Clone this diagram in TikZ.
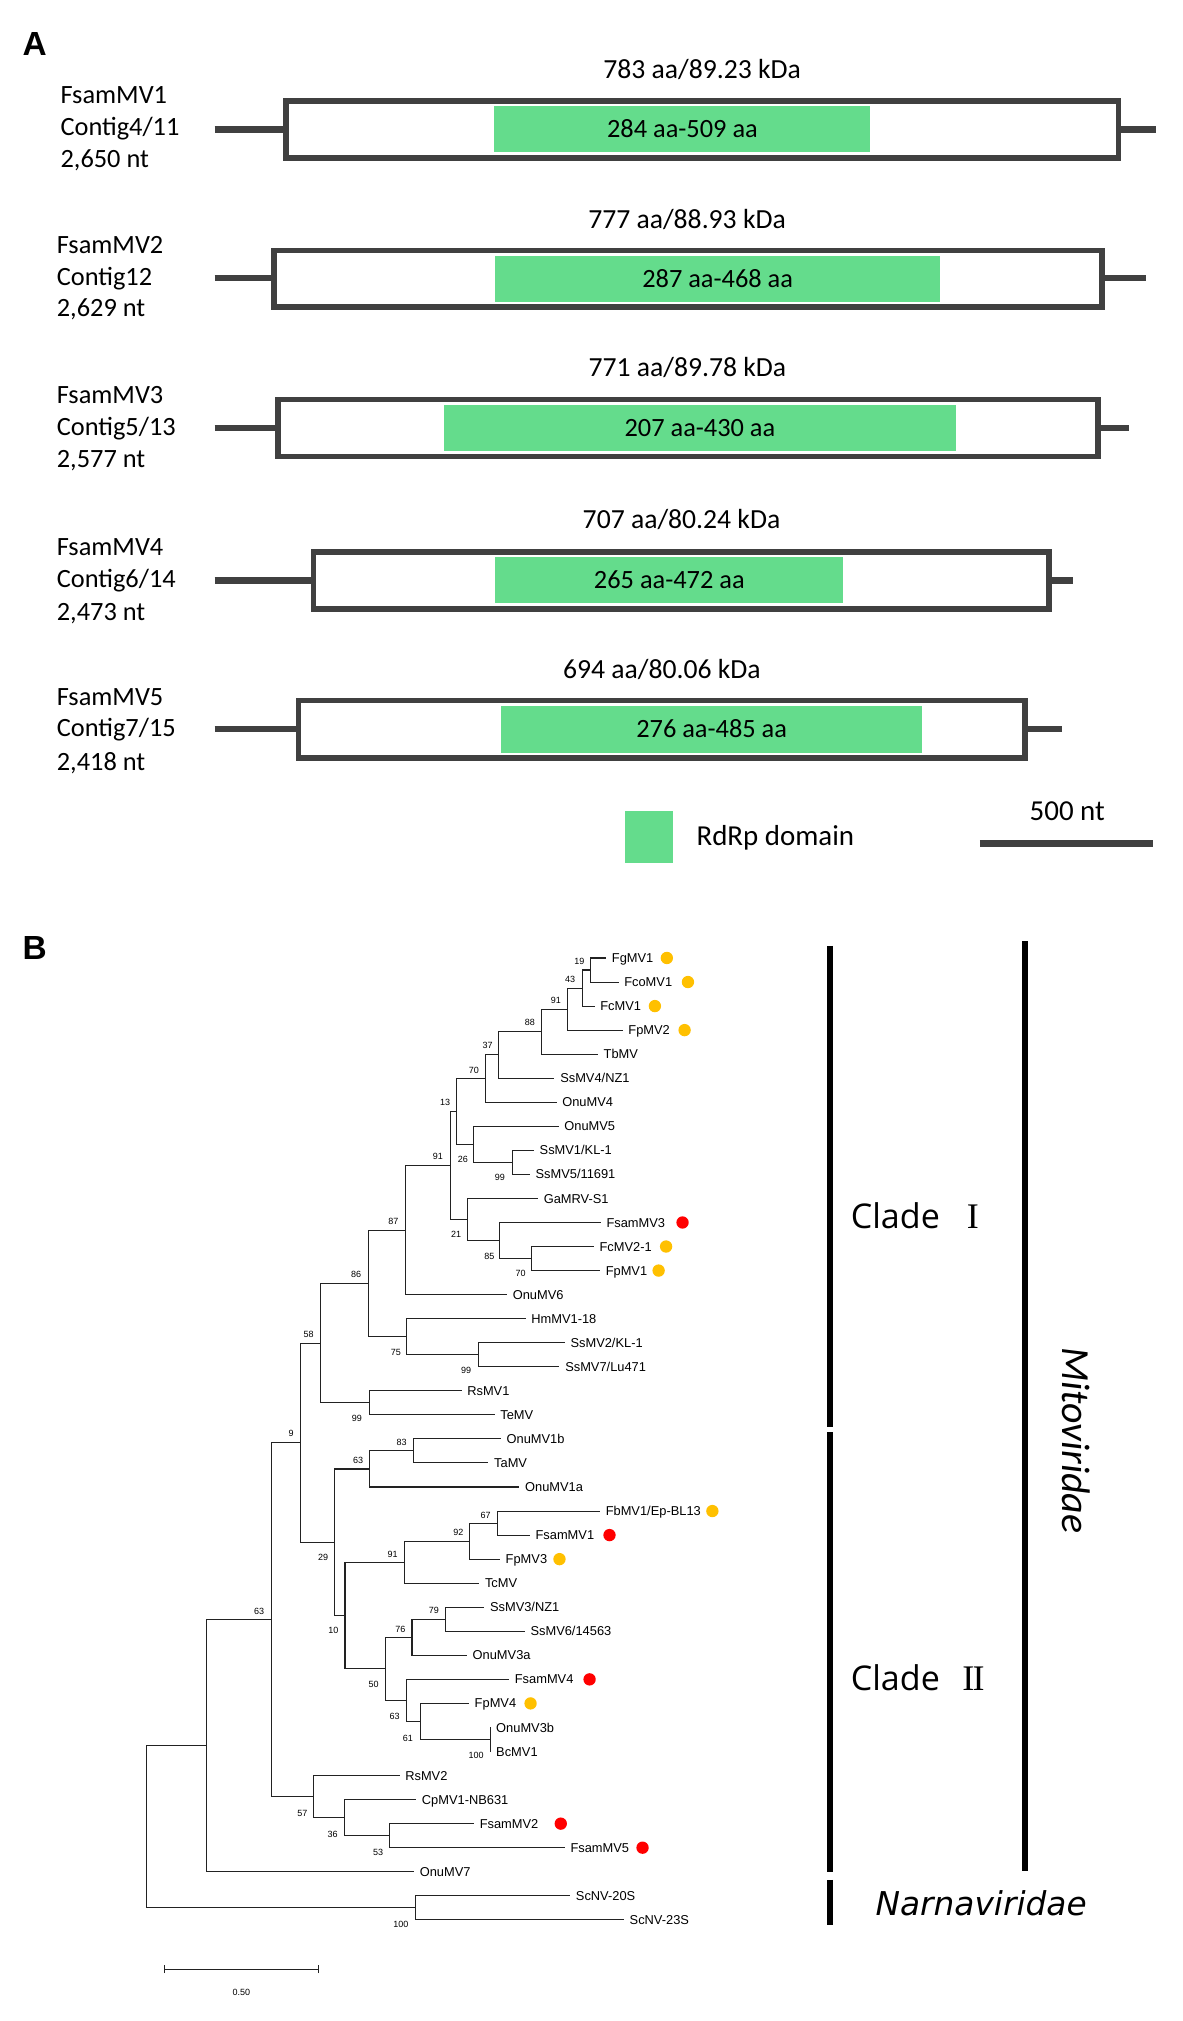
\documentclass[tikz,border=0pt]{standalone}
\usepackage{fontspec}
\setmainfont{Carlito}
\newfontfamily\arialf{Liberation Sans}
\newfontfamily\djv{DejaVu Sans}
\newfontfamily\opens{Open Sans}
\newfontfamily\libserif{Liberation Serif}
\definecolor{boxgray}{HTML}{404040}
\definecolor{rdrp}{HTML}{64DC8C}
\definecolor{orgdot}{HTML}{FFC000}
\definecolor{reddot}{HTML}{FF0000}
\definecolor{treeline}{HTML}{222222}
\begin{document}
\begin{tikzpicture}[x=1pt,y=-1pt,
  panel/.style={font=\arialf\bfseries\fontsize{26}{30}\selectfont,inner sep=0},
  genlab/.style={anchor=west,inner sep=0,font=\fontsize{20.5}{25}\selectfont,text height=13.2pt,text depth=0pt},
  title/.style={inner sep=0,font=\fontsize{21.5}{25}\selectfont,text height=13.8pt,text depth=0pt},
  domtxt/.style={inner sep=0,font=\fontsize{20.5}{25}\selectfont,text height=13.2pt,text depth=0pt},
  orf/.style={draw=boxgray,line width=4.5pt,fill=white},
  utr/.style={draw=boxgray,line width=5pt},
  dom/.style={fill=rdrp},
  br/.style={draw=treeline,line width=0.8pt},
  leaf/.style={anchor=west,inner sep=0,xshift=4.3pt,font=\arialf\fontsize{10}{11}\selectfont,text height=7.1pt,text depth=0pt},
  bs/.style={inner sep=0,font=\arialf\fontsize{7}{8}\selectfont},
  dotO/.style={circle,fill=orgdot,minimum size=9.6pt,inner sep=0},
  dotR/.style={circle,fill=reddot,minimum size=9.6pt,inner sep=0},
  cbar/.style={draw=black,line width=4.2pt},
  clade/.style={anchor=west,inner sep=0,font=\opens\fontsize{26.5}{30}\selectfont,text height=19pt,text depth=0pt}
]
\useasboundingbox (0,0) rectangle (920,1571.7);
\fill[white] (0,0) rectangle (920,1571.7);

% ---------------- Panel A ----------------
\node[panel] (labA) at (27,34.6) {A};

% Row 1
\node[genlab] (g1a) at (46.9,74) {FsamMV1};
\node[genlab] (g1b) at (46.9,98.5) {Contig4/11};
\node[genlab] (g1c) at (46.9,124) {2,650 nt};
\coordinate (u1l) at (167,100.6);
\coordinate (u1r) at (899,100.6);
\draw[utr] (u1l) -- (u1r);
\draw[orf] (222.25,78.25) rectangle (869.75,122.75);
\fill[dom] (384.5,82.4) rectangle (676.9,118.2);
\node[domtxt] (d1) at (530.7,100.3) {284 aa-509 aa};
\node[title] (t1) at (546,54.4) {783 aa/89.23 kDa};

% Row 2
\node[genlab] (g2a) at (44,190.5) {FsamMV2};
\node[genlab] (g2b) at (44,215.1) {Contig12};
\node[genlab] (g2c) at (44,239.8) {2,629 nt};
\coordinate (u2l) at (167,216.4);
\coordinate (u2r) at (891.5,216.4);
\draw[utr] (u2l) -- (u2r);
\draw[orf] (213.35,194.85) rectangle (856.95,238.85);
\fill[dom] (384.8,199.1) rectangle (731.4,234.6);
\node[domtxt] (d2) at (558.1,216.8) {287 aa-468 aa};
\node[title] (t2) at (534.3,170.6) {777 aa/88.93 kDa};

% Row 3
\node[genlab] (g3a) at (44,307.2) {FsamMV3};
\node[genlab] (g3b) at (44,332) {Contig5/13};
\node[genlab] (g3c) at (44,357) {2,577 nt};
\coordinate (u3l) at (167,332.9);
\coordinate (u3r) at (878,332.9);
\draw[utr] (u3l) -- (u3r);
\draw[orf] (216.25,310.75) rectangle (853.75,354.95);
\fill[dom] (344.9,315) rectangle (743.7,350.4);
\node[domtxt] (d3) at (544.3,332.7) {207 aa-430 aa};
\node[title] (t3) at (534.6,285.9) {771 aa/89.78 kDa};

% Row 4
\node[genlab] (g4a) at (44,425.1) {FsamMV4};
\node[genlab] (g4b) at (44,450.2) {Contig6/14};
\node[genlab] (g4c) at (44,475.6) {2,473 nt};
\coordinate (u4l) at (167,451.5);
\coordinate (u4r) at (834.6,451.5);
\draw[utr] (u4l) -- (u4r);
\draw[orf] (243.85,429.45) rectangle (815.95,473.35);
\fill[dom] (385.3,433.4) rectangle (655.7,468.6);
\node[domtxt] (d4) at (520.5,451) {265 aa-472 aa};
\node[title] (t4) at (530,404.4) {707 aa/80.24 kDa};

% Row 5
\node[genlab] (g5a) at (44,541.7) {FsamMV5};
\node[genlab] (g5b) at (44,566.4) {Contig7/15};
\node[genlab] (g5c) at (44,592.3) {2,418 nt};
\coordinate (u5l) at (167,567.1);
\coordinate (u5r) at (825.8,567.1);
\draw[utr] (u5l) -- (u5r);
\draw[orf] (232.15,544.75) rectangle (797.15,589.55);
\fill[dom] (390,549) rectangle (716.7,585.3);
\node[domtxt] (d5) at (553.4,567.2) {276 aa-485 aa};
\node[title] (t5) at (514.7,520.5) {694 aa/80.06 kDa};

% Legend
\node[fill=rdrp,minimum width=37pt,minimum height=40pt,inner sep=0] (legsq) at (504.5,651) {};
\node[inner sep=0,font=\fontsize{22.5}{26}\selectfont,text height=14.5pt,text depth=0pt] (legtx) at (603,650) {RdRp domain};
\node[inner sep=0,font=\fontsize{22.5}{26}\selectfont,text height=14.5pt,text depth=0pt] (sbtx) at (830,631) {500 nt};
\coordinate (sbl) at (762,656);
\coordinate (sbr) at (897,656);
\draw[utr] (sbl) -- (sbr);

% ---------------- Panel B ----------------
\node[panel] (labB) at (27,737) {B};

% leaf ends
\coordinate (e0) at (471.4,745);
\coordinate (e1) at (481.0,763.7);
\coordinate (e2) at (462.4,782.4);
\coordinate (e3) at (484.2,801.1);
\coordinate (e4) at (465.0,819.8);
\coordinate (e5) at (431.2,838.5);
\coordinate (e6) at (432.8,857.2);
\coordinate (e7) at (434.4,875.9);
\coordinate (e8) at (415.2,894.6);
\coordinate (e9) at (412.0,913.3);
\coordinate (e10) at (418.4,932);
\coordinate (e11) at (467.2,950.7);
\coordinate (e12) at (461.8,969.4);
\coordinate (e13) at (466.6,988.1);
\coordinate (e14) at (394.3,1006.8);
\coordinate (e15) at (408.7,1025.5);
\coordinate (e16) at (439.2,1044.2);
\coordinate (e17) at (435.1,1062.9);
\coordinate (e18) at (358.9,1081.6);
\coordinate (e19) at (384.6,1100.3);
\coordinate (e20) at (389.5,1119);
\coordinate (e21) at (379.8,1137.7);
\coordinate (e22) at (403.9,1156.4);
\coordinate (e23) at (466.6,1175.1);
\coordinate (e24) at (412.0,1193.8);
\coordinate (e25) at (388.8,1212.5);
\coordinate (e26) at (372.7,1231.2);
\coordinate (e27) at (376.6,1249.9);
\coordinate (e28) at (408.1,1268.6);
\coordinate (e29) at (363.1,1287.3);
\coordinate (e30) at (395.9,1306);
\coordinate (e31) at (364.7,1324.7);
\coordinate (e32) at (381.4,1343.4);
\coordinate (e33) at (381.4,1362.1);
\coordinate (e34) at (310.7,1380.8);
\coordinate (e35) at (323.6,1399.5);
\coordinate (e36) at (368.6,1418.2);
\coordinate (e37) at (439.2,1436.9);
\coordinate (e38) at (322.0,1455.6);
\coordinate (e39) at (443.4,1474.3);
\coordinate (e40) at (485.2,1493);

% internal nodes
\coordinate (n19) at (459.2,754.35);
\coordinate (n43) at (452.8,768.4);
\coordinate (n91a) at (441.5,784.75);
\coordinate (n88) at (421.0,802.3);
\coordinate (n37) at (387.8,820.4);
\coordinate (n70a) at (377.6,838.8);
\coordinate (n99a) at (398.4,903.95);
\coordinate (n26) at (368.6,889.9);
\coordinate (nA) at (354.8,864.35);
\coordinate (n70b) at (413.6,978.75);
\coordinate (n85) at (388.8,964.7);
\coordinate (n21) at (363.8,948.35);
\coordinate (n13) at (350.2,906.35);
\coordinate (n87) at (315.5,956.6);
\coordinate (n99b) at (371.8,1053.55);
\coordinate (n75) at (316.5,1039.5);
\coordinate (n86) at (286.6,998.05);
\coordinate (n99c) at (287.3,1090.95);
\coordinate (n58) at (249.0,1044.5);
\coordinate (n83) at (321.3,1128.35);
\coordinate (n63b) at (287.6,1142.4);
\coordinate (n67) at (386.9,1184.45);
\coordinate (n92) at (365.4,1198.5);
\coordinate (n91b) at (314.9,1214.85);
\coordinate (n79) at (346.4,1259.25);
\coordinate (n76) at (320.4,1273.3);
\coordinate (n100a) at (381.4,1352.75);
\coordinate (n61) at (326.8,1338.7);
\coordinate (n63c) at (316.2,1322.35);
\coordinate (n50) at (299.5,1297.8);
\coordinate (n10) at (268.3,1256.3);
\coordinate (n29) at (260.3,1199.35);
\coordinate (n9) at (233.6,1121.9);
\coordinate (n53) at (302.7,1427.55);
\coordinate (n36) at (268.0,1413.5);
\coordinate (n57) at (243.9,1397.15);
\coordinate (n63a) at (211.1,1259.5);
\coordinate (nM) at (160.7,1357.55);
\coordinate (n100b) at (323.0,1483.65);
\coordinate (root) at (113.75,1420.6);

\foreach \p/\c in {n19/e0,n19/e1,n43/n19,n43/e2,n91a/n43,n91a/e3,n88/n91a,n88/e4,
  n37/n88,n37/e5,n70a/n37,n70a/e6,nA/n70a,nA/n26,n26/e7,n26/n99a,n99a/e8,n99a/e9,
  n13/nA,n13/n21,n21/e10,n21/n85,n85/e11,n85/n70b,n70b/e12,n70b/e13,n87/n13,n87/e14,
  n86/n87,n86/n75,n75/e15,n75/n99b,n99b/e16,n99b/e17,n58/n86,n58/n99c,n99c/e18,n99c/e19,
  n9/n58,n9/n29,n29/n63b,n29/n10,n63b/n83,n63b/e22,n83/e20,n83/e21,n10/n91b,n10/n50,
  n91b/n92,n91b/e26,n92/n67,n92/e25,n67/e23,n67/e24,n50/n76,n50/n63c,n76/n79,n76/e29,
  n79/e27,n79/e28,n63c/e30,n63c/n61,n61/e31,n61/n100a,n100a/e32,n100a/e33,
  n63a/n9,n63a/n57,n57/e34,n57/n36,n36/e35,n36/n53,n53/e36,n53/e37,
  nM/n63a,nM/e38,root/nM,root/n100b,n100b/e39,n100b/e40}
  \draw[br] (\p) |- (\c);

% leaf labels
\node[leaf] (t0) at (e0) {FgMV1};
\node[leaf] (t1) at (e1) {FcoMV1};
\node[leaf] (t2) at (e2) {FcMV1};
\node[leaf] (t3) at (e3) {FpMV2};
\node[leaf] (t4) at (e4) {TbMV};
\node[leaf] (t5) at (e5) {SsMV4/NZ1};
\node[leaf] (t6) at (e6) {OnuMV4};
\node[leaf] (t7) at (e7) {OnuMV5};
\node[leaf] (t8) at (e8) {SsMV1/KL-1};
\node[leaf] (t9) at (e9) {SsMV5/11691};
\node[leaf] (t10) at (e10) {GaMRV-S1};
\node[leaf] (t11) at (e11) {FsamMV3};
\node[leaf] (t12) at (e12) {FcMV2-1};
\node[leaf] (t13) at (e13) {FpMV1};
\node[leaf] (t14) at (e14) {OnuMV6};
\node[leaf] (t15) at (e15) {HmMV1-18};
\node[leaf] (t16) at (e16) {SsMV2/KL-1};
\node[leaf] (t17) at (e17) {SsMV7/Lu471};
\node[leaf] (t18) at (e18) {RsMV1};
\node[leaf] (t19) at (e19) {TeMV};
\node[leaf] (t20) at (e20) {OnuMV1b};
\node[leaf] (t21) at (e21) {TaMV};
\node[leaf] (t22) at (e22) {OnuMV1a};
\node[leaf] (t23) at (e23) {FbMV1/Ep-BL13};
\node[leaf] (t24) at (e24) {FsamMV1};
\node[leaf] (t25) at (e25) {FpMV3};
\node[leaf] (t26) at (e26) {TcMV};
\node[leaf] (t27) at (e27) {SsMV3/NZ1};
\node[leaf] (t28) at (e28) {SsMV6/14563};
\node[leaf] (t29) at (e29) {OnuMV3a};
\node[leaf] (t30) at (e30) {FsamMV4};
\node[leaf] (t31) at (e31) {FpMV4};
\node[leaf] (t32) at (e32) {OnuMV3b};
\node[leaf] (t33) at (e33) {BcMV1};
\node[leaf] (t34) at (e34) {RsMV2};
\node[leaf] (t35) at (e35) {CpMV1-NB631};
\node[leaf] (t36) at (e36) {FsamMV2};
\node[leaf] (t37) at (e37) {FsamMV5};
\node[leaf] (t38) at (e38) {OnuMV7};
\node[leaf] (t39) at (e39) {ScNV-20S};
\node[leaf] (t40) at (e40) {ScNV-23S};

% dots
\node[dotO] (o0) at (518.6,745) {};
\node[dotO] (o1) at (535.0,763.7) {};
\node[dotO] (o2) at (509.3,782.4) {};
\node[dotO] (o3) at (532.4,801.1) {};
\node[dotR] (r11) at (530.8,950.7) {};
\node[dotO] (o12) at (518.0,969.4) {};
\node[dotO] (o13) at (512.2,988.1) {};
\node[dotO] (o23) at (554.0,1175.1) {};
\node[dotR] (r24) at (474.0,1193.8) {};
\node[dotO] (o25) at (435.1,1212.5) {};
\node[dotR] (r30) at (458.5,1306) {};
\node[dotO] (o31) at (412.6,1324.7) {};
\node[dotR] (r36) at (436.1,1418.2) {};
\node[dotR] (r37) at (499.7,1436.9) {};

% bootstrap values
\node[bs] (b1) at (450.5,747.3) {19};
\node[bs] (b2) at (443.4,761.3) {43};
\node[bs] (b3) at (432.2,778.2) {91};
\node[bs] (b4) at (412.0,795.0) {88};
\node[bs] (b5) at (379.2,813.1) {37};
\node[bs] (b6) at (368.6,832.1) {70};
\node[bs] (b7) at (346.1,857.5) {13};
\node[bs] (b8) at (340.6,899.5) {91};
\node[bs] (b9) at (359.9,901.5) {26};
\node[bs] (b10) at (388.8,915.5) {99};
\node[bs] (b11) at (305.9,950.0) {87};
\node[bs] (b12) at (354.8,960.3) {21};
\node[bs] (b13) at (380.5,977.2) {85};
\node[bs] (b14) at (404.9,990.6) {70};
\node[bs] (b15) at (277.0,991.4) {86};
\node[bs] (b16) at (307.8,1051.8) {75};
\node[bs] (b17) at (362.5,1065.8) {99};
\node[bs] (b18) at (240.0,1038.1) {58};
\node[bs] (b19) at (277.6,1102.9) {99};
\node[bs] (b20) at (226.5,1114.5) {9};
\node[bs] (b21) at (312.3,1121.8) {83};
\node[bs] (b22) at (278.6,1136.0) {63};
\node[bs] (b23) at (377.6,1178.8) {67};
\node[bs] (b24) at (356.4,1191.8) {92};
\node[bs] (b25) at (305.3,1208.6) {91};
\node[bs] (b26) at (251.3,1210.9) {29};
\node[bs] (b27) at (337.4,1252.7) {79};
\node[bs] (b28) at (259.3,1268.2) {10};
\node[bs] (b29) at (311.4,1267.5) {76};
\node[bs] (b30) at (201.5,1253.2) {63};
\node[bs] (b31) at (290.5,1309.7) {50};
\node[bs] (b32) at (306.9,1334.8) {63};
\node[bs] (b33) at (317.2,1352.2) {61};
\node[bs] (b34) at (370.2,1365.4) {100};
\node[bs] (b35) at (235.2,1410.0) {57};
\node[bs] (b36) at (258.7,1426.9) {36};
\node[bs] (b37) at (294.0,1440.3) {53};
\node[bs] (b38) at (311.7,1496.9) {100};

% scale bar
\coordinate (sl) at (127.6,1531.4);
\coordinate (sr) at (247.4,1531.4);
\draw[br] (sl) -- (sr);
\draw[br] ([yshift=-3pt]sl) -- ([yshift=3pt]sl);
\draw[br] ([yshift=-3pt]sr) -- ([yshift=3pt]sr);
\node[bs] (sbval) at (187.7,1549.5) {0.50};

% clade bars
\coordinate (c1t) at (645.5,735.6);
\coordinate (c1b) at (645.5,1110);
\coordinate (c2t) at (645.5,1114);
\coordinate (c2b) at (645.5,1456);
\coordinate (c3t) at (645.5,1462);
\coordinate (c3b) at (645.5,1497);
\coordinate (mt) at (797,732);
\coordinate (mb) at (797,1455);
\draw[cbar] (c1t) -- (c1b);
\draw[cbar] (c2t) -- (c2b);
\draw[cbar] (c3t) -- (c3b);
\draw[cbar] (mt) -- (mb);

\node[clade] (cl1) at (661.5,946) {Clade\hspace{21pt}{\libserif\fontsize{28}{30}\selectfont I}};
\node[clade] (cl2) at (661.5,1305) {Clade\hspace{17.5pt}{\libserif\fontsize{28}{30}\selectfont I\kern-1.4pt I}};
\node[inner sep=0,rotate=-90,font=\itshape\fontsize{31}{34}\selectfont] (mito) at (837,1120) {Mitoviridae};
\node[inner sep=0,font=\djv\itshape\fontsize{25.5}{30}\selectfont] (narna) at (763,1480) {Narnaviridae};
\end{tikzpicture}
\end{document}
